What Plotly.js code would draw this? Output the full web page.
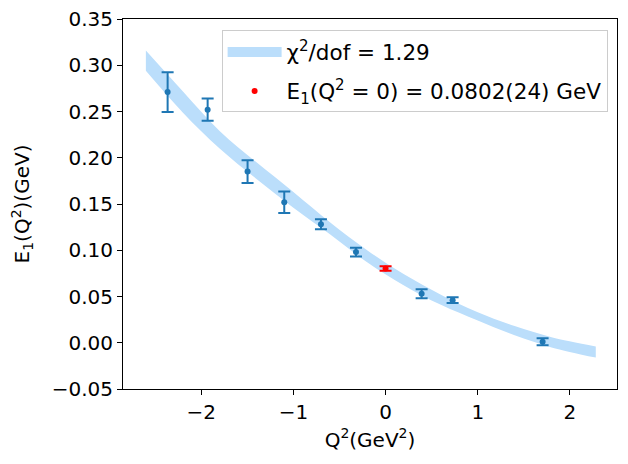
<!DOCTYPE html>
<html>
<head>
<meta charset="utf-8">
<script src="https://cdn.plot.ly/plotly-3.0.1.min.js"></script>
<style>
  body { margin: 0; background: #fff; }
  #chart { width: 628px; height: 464px; }
</style>
</head>
<body>
<div id="chart"></div>
<script>
// lattice points
var q2 = [-2.364, -1.930, -1.497, -1.099, -0.701, -0.321, 0.391, 0.727, 1.703];
var e1 = [0.271, 0.252, 0.185, 0.152, 0.128, 0.098, 0.053, 0.046, 0.001];
var e1Err = [0.0215, 0.012, 0.0123, 0.0116, 0.0054, 0.0048, 0.0049, 0.0031, 0.0038];

// extrapolated value at Q^2 = 0
var q2Zero = [0];
var e1Zero = [0.0802];
var e1ZeroErr = [0.0024];

// fit band edges
var bandX = [-2.6, -2.2, -1.8, -1.4, -1.0, -0.6, -0.2, 0.2, 0.6, 1.0, 1.4, 1.8, 2.28];
var bandHi = [0.316, 0.272, 0.229, 0.195, 0.163, 0.130, 0.100, 0.074, 0.052, 0.033, 0.018, 0.006, -0.004];
var bandLo = [0.294, 0.249, 0.210, 0.177, 0.146, 0.117, 0.087, 0.062, 0.041, 0.024, 0.008, -0.005, -0.016];

var chi2Label = "\u03c7<sup>2</sup>/dof = 1.29";
var zeroLabel = "E<sub>1</sub>(Q<sup>2</sup> = 0) = 0.0802(24) GeV";

var bandColor = '#bbdefb';

var traces = [
  {
    x: bandX, y: bandLo,
    type: 'scatter', mode: 'lines',
    line: { width: 0, shape: 'spline', color: bandColor },
    showlegend: false, hoverinfo: 'skip'
  },
  {
    x: bandX, y: bandHi,
    type: 'scatter', mode: 'lines',
    line: { width: 0, shape: 'spline', color: bandColor },
    fill: 'tonexty', fillcolor: bandColor,
    showlegend: false, hoverinfo: 'skip'
  },
  // legend entry for the band (thick patch)
  {
    x: [null], y: [null],
    type: 'scatter', mode: 'lines',
    line: { width: 16, color: bandColor },
    name: chi2Label, legendgroup: 'a'
  },
  {
    x: q2, y: e1,
    type: 'scatter', mode: 'markers',
    marker: { color: '#1f77b4', size: 6 },
    error_y: { type: 'data', array: e1Err, visible: true, color: '#1f77b4', thickness: 2, width: 6 },
    showlegend: false
  },
  {
    x: q2Zero, y: e1Zero,
    type: 'scatter', mode: 'markers',
    marker: { color: 'red', size: 6 },
    error_y: { type: 'data', array: e1ZeroErr, visible: true, color: 'red', thickness: 2, width: 6 },
    name: zeroLabel, legendgroup: 'b'
  }
];

var axisCommon = {
  showline: true, mirror: true, linecolor: 'black', linewidth: 1,
  ticks: 'outside', ticklen: 5, tickwidth: 1, tickcolor: 'black',
  showgrid: false, zeroline: false, automargin: false,
  tickfont: { size: 20, color: 'black' }
};

var layout = {
  width: 628, height: 464,
  margin: { l: 123, r: 11, t: 19, b: 75, pad: 0 },
  paper_bgcolor: 'white', plot_bgcolor: 'white',
  font: { family: 'DejaVu Sans', color: 'black', size: 20 },
  xaxis: Object.assign({}, axisCommon, {
    range: [-2.848, 2.51],
    tickvals: [-2, -1, 0, 1, 2],
    title: { text: 'Q<sup>2</sup>(GeV<sup>2</sup>)', font: { size: 20 }, standoff: 9 }
  }),
  yaxis: Object.assign({}, axisCommon, {
    range: [-0.05, 0.35],
    tickvals: [-0.05, 0, 0.05, 0.1, 0.15, 0.2, 0.25, 0.3, 0.35],
    tickformat: '.2f',
    title: { text: 'E<sub>1</sub>(Q<sup>2</sup>)(GeV)', font: { size: 20 }, standoff: 16 }
  }),
  showlegend: true,
  legend: {
    x: 0.981, xanchor: 'right', y: 0.969, yanchor: 'top',
    bgcolor: 'rgba(255,255,255,0.8)', bordercolor: '#cccccc', borderwidth: 1,
    font: { size: 21.5 }, itemwidth: 54, tracegroupgap: 8, traceorder: 'grouped'
  }
};

Plotly.newPlot('chart', traces, layout, { displayModeBar: false, staticPlot: true });
</script>
</body>
</html>
